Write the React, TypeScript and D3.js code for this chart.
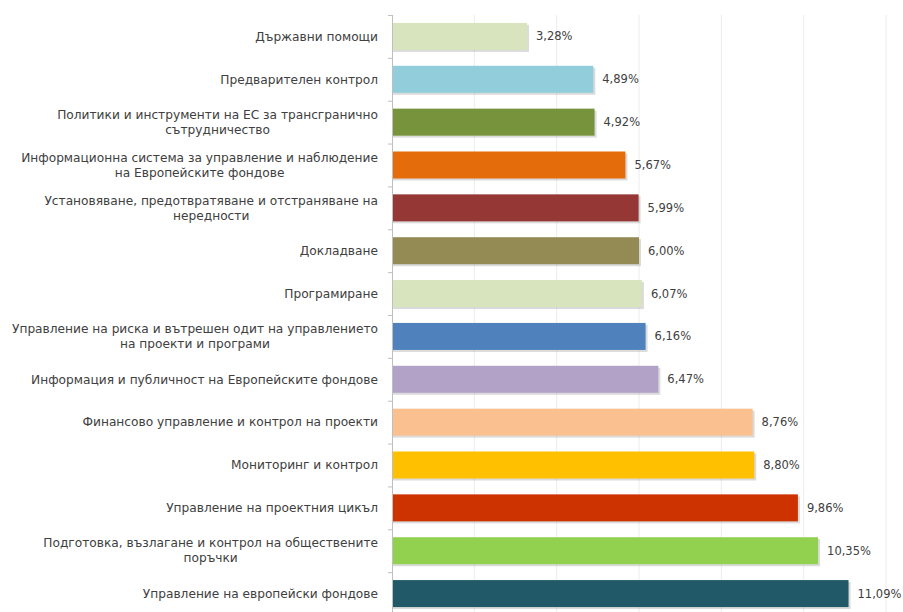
import React, { useEffect, useRef } from "react";
import * as d3 from "d3";

const categories: string[][] = [
  ["Държавни помощи"],
  ["Предварителен контрол"],
  ["Политики и инструменти на ЕС за трансгранично", "сътрудничество"],
  ["Информационна система за управление и наблюдение", "на Европейските фондове"],
  ["Установяване, предотвратяване и отстраняване на", "нередности"],
  ["Докладване"],
  ["Програмиране"],
  ["Управление на риска и вътрешен одит на управлението", "на проекти и програми"],
  ["Информация и публичност на Европейските фондове"],
  ["Финансово управление и контрол на проекти"],
  ["Мониторинг и контрол"],
  ["Управление на проектния цикъл"],
  ["Подготовка, възлагане и контрол на обществените", "поръчки"],
  ["Управление на европейски фондове"],
];

const values: number[] = [3.28, 4.89, 4.92, 5.67, 5.99, 6.0, 6.07, 6.16, 6.47, 8.76, 8.8, 9.86, 10.35, 11.09];

const colors: string[] = [
  "#d7e4bd", "#92cddc", "#77933c", "#e46c0a", "#953735", "#948a54", "#d7e4bd",
  "#4f81bd", "#b3a2c7", "#fac090", "#ffc000", "#cc3300", "#92d050", "#215968",
];

const xTicks: number[] = [0, 2, 4, 6, 8, 10, 12];

const W = 903;
const H = 612;

export default function App() {
  const ref = useRef<SVGSVGElement>(null);

  useEffect(() => {
    const svg = d3.select(ref.current);
    svg.selectAll("*").remove();
    const left = 392;
    const top = 15;
    const bottom = 615;
    const x = d3.scaleLinear().domain([0, 12]).range([left, 886]);
    const ids = categories.map((_, i) => i);
    const y = d3.scaleBand<number>().domain(ids).range([top, bottom]).paddingInner(0.37).paddingOuter(0.185);
    const font = "'DejaVu Sans', sans-serif";
    const textColor = "#404040";

    // gridlines
    svg.append("g").selectAll("line").data(xTicks.slice(1)).join("line")
      .attr("x1", (d) => x(d)).attr("x2", (d) => x(d))
      .attr("y1", top).attr("y2", bottom)
      .attr("stroke", "#ececec").attr("stroke-width", 1);

    // shadows
    svg.append("g").selectAll("rect").data(ids).join("rect")
      .attr("x", left + 1).attr("y", (i) => (y(i) as number) + 2)
      .attr("width", (i) => x(values[i]) - left + 1).attr("height", y.bandwidth())
      .attr("fill", "#999").attr("opacity", 0.35);

    // bars
    svg.append("g").selectAll("rect").data(ids).join("rect")
      .attr("x", left + 1).attr("y", (i) => y(i) as number)
      .attr("width", (i) => x(values[i]) - left - 1).attr("height", y.bandwidth())
      .attr("fill", (i) => colors[i]);

    // axis line
    svg.append("line").attr("x1", left + 0.5).attr("x2", left + 0.5)
      .attr("y1", top).attr("y2", bottom).attr("stroke", "#bfbfbf");
    const boundaries = d3.range(categories.length + 1).map((k) => top + (k * (bottom - top)) / categories.length);
    svg.append("g").selectAll("line").data(boundaries).join("line")
      .attr("x1", left - 4).attr("x2", left).attr("y1", (d) => d + 0.5).attr("y2", (d) => d + 0.5)
      .attr("stroke", "#bfbfbf");

    // value labels
    svg.append("g").selectAll("text").data(ids).join("text")
      .attr("x", (i) => x(values[i]) + 9)
      .attr("y", (i) => (y(i) as number) + y.bandwidth() / 2)
      .attr("dy", "0.35em")
      .attr("font-family", font).attr("font-size", 11.5).attr("fill", textColor)
      .text((i) => values[i].toFixed(2).replace(".", ",") + "%");

    // category labels
    const labelRight = 378;
    const lineH = 15;
    ids.forEach((i) => {
      const lines = categories[i];
      const cy = (y(i) as number) + y.bandwidth() / 2;
      const g = svg.append("g");
      const texts = lines.map((ln, k) =>
        g.append("text")
          .attr("y", cy + (k - (lines.length - 1) / 2) * lineH)
          .attr("dy", "0.35em")
          .attr("font-family", font).attr("font-size", 12.2).attr("fill", textColor)
          .text(ln)
      );
      const widths = texts.map((t) => (t.node() as SVGTextElement).getComputedTextLength());
      const maxW = Math.max(...widths);
      texts.forEach((t) => t.attr("text-anchor", "middle").attr("x", labelRight - maxW / 2));
    });
  }, []);

  return (
    <svg
      ref={ref}
      width={W}
      height={H}
      style={{ position: "absolute", left: 0, top: 0, background: "#fff" }}
    />
  );
}
